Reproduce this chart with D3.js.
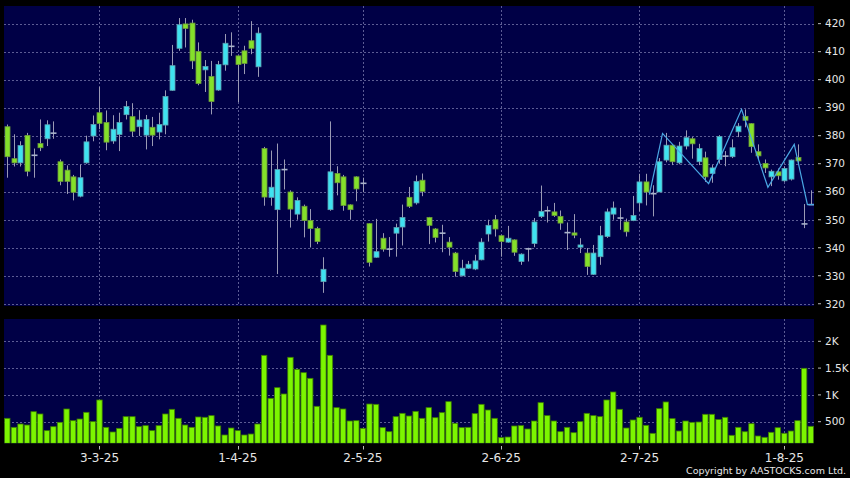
<!DOCTYPE html>
<html><head><meta charset="utf-8">
<script src="https://cdn.jsdelivr.net/npm/d3@7/dist/d3.min.js"></script>
<style>html,body{margin:0;padding:0;background:#000;}svg{display:block;}</style>
</head><body>
<svg id="chart" width="850" height="478"></svg>
<script>
const dates = [
"2025-02-11","2025-02-12","2025-02-13","2025-02-14","2025-02-17","2025-02-18","2025-02-19","2025-02-20","2025-02-21","2025-02-24","2025-02-25","2025-02-26","2025-02-27","2025-02-28",
"2025-03-03","2025-03-04","2025-03-05","2025-03-06","2025-03-07","2025-03-10","2025-03-11","2025-03-12","2025-03-13","2025-03-14","2025-03-17","2025-03-18","2025-03-19","2025-03-20","2025-03-21","2025-03-24","2025-03-25","2025-03-26","2025-03-27","2025-03-28","2025-03-31",
"2025-04-01","2025-04-02","2025-04-03","2025-04-07","2025-04-08","2025-04-09","2025-04-10","2025-04-11","2025-04-14","2025-04-15","2025-04-16","2025-04-17","2025-04-22","2025-04-23","2025-04-24","2025-04-25","2025-04-28","2025-04-29","2025-04-30",
"2025-05-02","2025-05-05","2025-05-06","2025-05-07","2025-05-08","2025-05-09","2025-05-12","2025-05-13","2025-05-14","2025-05-15","2025-05-16","2025-05-19","2025-05-20","2025-05-21","2025-05-22","2025-05-23","2025-05-26","2025-05-27","2025-05-28","2025-05-29","2025-05-30",
"2025-06-02","2025-06-03","2025-06-04","2025-06-05","2025-06-06","2025-06-09","2025-06-10","2025-06-11","2025-06-12","2025-06-13","2025-06-16","2025-06-17","2025-06-18","2025-06-19","2025-06-20","2025-06-23","2025-06-24","2025-06-25","2025-06-26","2025-06-27","2025-06-30",
"2025-07-02","2025-07-03","2025-07-04","2025-07-07","2025-07-08","2025-07-09","2025-07-10","2025-07-11","2025-07-14","2025-07-15","2025-07-16","2025-07-17","2025-07-18","2025-07-21","2025-07-22","2025-07-23","2025-07-24","2025-07-25","2025-07-28","2025-07-29","2025-07-30","2025-07-31",
"2025-08-01","2025-08-04","2025-08-05","2025-08-06","2025-08-07"];

const openP = [383.2,371.8,370.3,380.1,373,377.2,378.9,380.9,370.7,367.7,365.3,358.4,370.3,379.9,
388.2,384.7,378.1,380.4,387.5,386.8,383.2,380.2,383,381.3,383.8,396.2,411.2,419.9,420.2,410.1,403.5,401.1,396.3,405.3,411.9,
408.5,410.3,413.9,404.6,375.4,358,353.6,367.9,359.9,352,354.8,349.7,346.9,327.9,353.6,366.5,365.3,355.3,365.3,
363,348.6,336.6,343.4,339.5,345.2,347.4,358,356,364.1,350.8,346.7,345.2,342,338.1,330,332.7,332.4,335.7,344.9,350,
344.3,342,342.8,335.1,339.6,341.5,351.2,353.2,352.8,351.2,345.4,345.3,340.2,338.1,330.5,336.8,344,352,350.6,349.2,349.7,
356,363.5,359.3,359.9,371.3,376.6,370.3,376.3,378.9,370.7,372.1,366.5,371.5,372.7,372.5,381.4,386.9,384.3,374.3,370.1,365.3,367.1,
363.9,364.5,372.2,348.5,355.4];

const closeP = [372.5,370.3,376.5,367.3,373,375.7,383.9,380.9,363.7,363.7,359.8,365,377.8,384,
384.4,377.7,382.3,384.7,390.4,381.6,385.6,385.8,380.2,384,394,405,419.6,418.3,406.7,398.6,404.7,392.2,405.4,413,411.9,
405.4,405.8,411.2,416.6,358.1,361.6,367.9,367.9,353.8,356.9,349.7,346.9,342.2,332.3,367.1,363.2,355.1,353.6,361,
363,334.8,338.6,339.5,339.5,347.2,350.8,354.8,363.7,360.1,348,343.7,345.2,340.2,331.5,332.7,334.1,335.3,342,348,346.7,
342.2,343.4,338.4,337.7,339.6,349.2,353,353.2,351.5,348.8,345.4,344.5,341,333.3,338.1,344.3,352.8,354.2,350.6,345.7,351.5,
363.5,359.9,359.3,370.7,376.6,370.7,376.3,379.3,377.1,375.4,365.3,368.5,379.7,372.7,375.7,383.4,385.5,376.1,372.8,368.5,367.3,365.7,
368.3,371.3,371,348.5,355.4];

const highP = [384,380.5,378,381,375.4,385.8,385.5,385.1,371.5,369.4,366,369.7,380,387.2,
397.4,389,387.3,388.2,392.4,391.6,389.1,387.4,386.7,388.2,396.2,412.4,422,422,421.4,413.3,407,406.7,406.7,416.3,416.9,
408.5,412.1,420.9,418.7,376,374.7,377.2,371.5,360.5,358,355.4,353.8,347.5,336.6,385.1,369.1,366,355.5,365.5,
365,348.8,350.3,345.2,343.8,348.6,355.4,361.7,365.8,366.5,351,347,348.2,343.8,338.5,335.7,335.3,337.5,343.4,350,351.7,
344.6,347.8,343,338,340,350.6,362.2,354.8,356,353.3,349,352,343.4,339.9,341,347.8,354,356.5,354.2,350.4,358.5,
366.4,366.4,362.3,372,381,377,377.8,381.9,379.5,377.1,374.3,369.5,380.2,374.5,378.7,384.5,389.4,384.5,376.9,371.5,367.9,368.3,
369,371.5,376.9,355.6,360.5];

const lowP = [365,369,369,365.5,365,374.5,376.3,378.9,362.3,359.2,356.9,358,370,378,
382.3,374.8,377.1,374.5,385.8,379.6,379.9,375.1,376.3,378.7,380.5,396,410.3,411.5,403.8,398,395.6,387.6,396,403.2,408.5,
392,402,409.1,401,355,355,330.6,360.8,347.2,350,343.7,340.1,341.3,323.9,353.2,358.7,353.2,350,356.6,
359.8,333.3,336.4,338.6,336.8,336.8,340.8,354.2,355.4,358.4,341.3,341.9,338.4,337.2,329.7,329.8,332.5,332,335.5,342.2,344,
336.8,341.8,337.1,333.9,335.1,340.2,350.6,349,351,346.4,339.2,343.4,338.1,330.3,330.3,333.9,343.5,350,346.4,344,349.5,
353,355.1,351.2,359.9,370.5,369.5,369.8,375.1,371.8,369.5,363.5,363.2,370,369.1,372,379.5,383,373.9,371.5,366.7,362,364.3,
363.5,364,369.7,347,355.4];

const volume = [563,395,457,438,687,644,333,407,488,737,519,550,675,501,
905,395,308,376,594,594,407,426,333,426,644,731,563,438,395,588,582,613,420,252,382,
333,252,270,457,1738,936,1135,1017,1701,1477,1415,1309,787,2304,1738,762,737,513,519,
376,830,824,389,314,594,656,606,693,563,762,575,669,874,470,389,395,650,824,718,563,
202,214,420,426,364,513,855,613,513,314,395,295,501,656,613,594,905,1054,731,382,532,
582,432,283,743,868,557,326,513,488,494,638,638,540,582,246,395,313,463,233,209,302,388,
284,326,519,1496,414];

const zigDates = ["2025-07-04","2025-07-08","2025-07-17","2025-07-24","2025-07-30","2025-08-05","2025-08-07"];
const zigValues = [359,380.8,362.9,389.4,361.6,376.9,355.4];

const tickDates = ["2025-03-03","2025-04-01","2025-05-02","2025-06-02","2025-07-02","2025-08-01"];
const tickLabels = ["3-3-25","1-4-25","2-5-25","2-6-25","2-7-25","1-8-25"];
const priceTicks = [320,330,340,350,360,370,380,390,400,410,420];
const volTicks = [500,1000,1500,2000];
const volTickLabels = ["500","1K","1.5K","2K"];

const svg = d3.select("#chart");
const W = 850, H = 478;
const pL = 4, pR = 814;
const priceTop = 6, priceBot = 306;
const volTop = 319, volBot = 443.3;

const NAVY = "#000046", GRID = "#5c5c94", TXT = "#e6e6e6";
const UP = "#3fe2f0", DOWN = "#84e02a", DOJI = "#aab4cc", WICK = "#9a9ab4";

svg.append("rect").attr("width", W).attr("height", H).attr("fill", "#000");

const x = d3.scaleBand().domain(dates).range([pL, pR]).paddingInner(0).paddingOuter(0);
const step = x.step();
const cx = d => x(d) + step / 2;
const yP = d3.scaleLinear().domain([319.2, 426.3]).range([priceBot, priceTop]);
const yV = d3.scaleLinear().domain([97, 2416]).range([volBot, volTop]);

svg.append("rect").attr("x", pL).attr("y", priceTop).attr("width", pR - pL).attr("height", priceBot - priceTop).attr("fill", NAVY);
svg.append("rect").attr("x", pL).attr("y", volTop).attr("width", pR - pL).attr("height", volBot - volTop).attr("fill", NAVY);

const defs = svg.append("defs");
defs.append("clipPath").attr("id", "clipP").append("rect").attr("x", pL).attr("y", priceTop).attr("width", pR - pL).attr("height", priceBot - priceTop);
defs.append("clipPath").attr("id", "clipV").append("rect").attr("x", pL).attr("y", volTop).attr("width", pR - pL).attr("height", volBot - volTop);

const gP = svg.append("g");
gP.selectAll("line.h").data(priceTicks).join("line")
  .attr("x1", pL).attr("x2", pR).attr("y1", d => Math.round(yP(d)) + 0.5).attr("y2", d => Math.round(yP(d)) + 0.5)
  .attr("stroke", GRID).attr("stroke-dasharray", "2,2").attr("stroke-width", 1);
gP.selectAll("line.v").data(tickDates).join("line")
  .attr("x1", d => Math.round(cx(d)) + 0.5).attr("x2", d => Math.round(cx(d)) + 0.5)
  .attr("y1", priceTop).attr("y2", priceBot)
  .attr("stroke", GRID).attr("stroke-dasharray", "2,2").attr("stroke-width", 1);

const gV = svg.append("g");
gV.selectAll("line.h").data(volTicks).join("line")
  .attr("x1", pL).attr("x2", pR).attr("y1", d => Math.round(yV(d)) + 0.5).attr("y2", d => Math.round(yV(d)) + 0.5)
  .attr("stroke", GRID).attr("stroke-dasharray", "2,2").attr("stroke-width", 1);
gV.selectAll("line.v").data(tickDates).join("line")
  .attr("x1", d => Math.round(cx(d)) + 0.5).attr("x2", d => Math.round(cx(d)) + 0.5)
  .attr("y1", volTop).attr("y2", volBot)
  .attr("stroke", GRID).attr("stroke-dasharray", "2,2").attr("stroke-width", 1);

const candles = dates.map((d, i) => ({ d, o: openP[i], h: highP[i], l: lowP[i], c: closeP[i], v: volume[i] }));
const gC = svg.append("g").attr("clip-path", "url(#clipP)");
const bw = 5;
gC.selectAll("line.wick").data(candles).join("line")
  .attr("x1", d => Math.round(cx(d.d)) + 0.5).attr("x2", d => Math.round(cx(d.d)) + 0.5)
  .attr("y1", d => yP(d.h)).attr("y2", d => yP(d.l))
  .attr("stroke", WICK).attr("stroke-width", 1);
gC.selectAll("rect.body").data(candles.filter(d => d.o !== d.c)).join("rect")
  .attr("x", d => Math.round(cx(d.d)) + 0.5 - bw / 2)
  .attr("y", d => yP(Math.max(d.o, d.c)))
  .attr("width", bw)
  .attr("height", d => Math.max(1.5, Math.abs(yP(d.o) - yP(d.c))))
  .attr("fill", d => d.c > d.o ? UP : DOWN)
  .attr("stroke", d => d.c > d.o ? "#5d9fb0" : "#6d9a3a").attr("stroke-width", 0.8);
gC.selectAll("line.doji").data(candles.filter(d => d.o === d.c)).join("line")
  .attr("x1", d => Math.round(cx(d.d)) + 0.5 - bw / 2 - 0.5).attr("x2", d => Math.round(cx(d.d)) + 0.5 + bw / 2 + 0.5)
  .attr("y1", d => yP(d.c)).attr("y2", d => yP(d.c))
  .attr("stroke", DOJI).attr("stroke-width", 1.6);

const zig = zigDates.map((d, i) => [x(d), yP(zigValues[i])]);
zig.push([x(zigDates[zigDates.length - 1]) + step, yP(zigValues[zigValues.length - 1])]);
gC.append("path").attr("d", d3.line()(zig)).attr("fill", "none").attr("stroke", "#4aa8e4").attr("stroke-width", 1.2);

const gB = svg.append("g").attr("clip-path", "url(#clipV)");
gB.selectAll("rect").data(candles).join("rect")
  .attr("x", d => x(d.d) + 0.6).attr("width", step - 1.2)
  .attr("y", d => yV(d.v)).attr("height", d => volBot - yV(d.v))
  .attr("fill", "#7cf500").attr("stroke", "#3d7d00").attr("stroke-width", 0.8);

const fnt = "DejaVu Sans, Verdana, sans-serif";
const aP = svg.append("g");
aP.selectAll("line").data(priceTicks).join("line")
  .attr("x1", 818).attr("x2", 821).attr("y1", d => yP(d)).attr("y2", d => yP(d))
  .attr("stroke", "#bbbbbb").attr("stroke-width", 1);
aP.selectAll("text").data(priceTicks).join("text")
  .attr("x", 825).attr("y", d => yP(d)).attr("dy", "0.36em")
  .attr("font-family", fnt).attr("font-size", 10.5).attr("fill", TXT)
  .text(d => d3.format("d")(d));

const aV = svg.append("g");
aV.selectAll("line").data(volTicks).join("line")
  .attr("x1", 818).attr("x2", 821).attr("y1", d => yV(d)).attr("y2", d => yV(d))
  .attr("stroke", "#bbbbbb").attr("stroke-width", 1);
aV.selectAll("text").data(volTicks).join("text")
  .attr("x", 825).attr("y", d => yV(d)).attr("dy", "0.36em")
  .attr("font-family", fnt).attr("font-size", 10.5).attr("fill", TXT)
  .text((d, i) => volTickLabels[i]);

const aX = svg.append("g");
aX.selectAll("line").data(tickDates).join("line")
  .attr("x1", d => Math.round(cx(d)) + 0.5).attr("x2", d => Math.round(cx(d)) + 0.5)
  .attr("y1", 446).attr("y2", 449.5).attr("stroke", "#bbbbbb").attr("stroke-width", 1);
aX.selectAll("text").data(tickDates).join("text")
  .attr("x", d => cx(d)).attr("y", 462).attr("text-anchor", "middle")
  .attr("font-family", fnt).attr("font-size", 12).attr("fill", TXT)
  .text((d, i) => tickLabels[i]);

svg.append("text").attr("x", 846).attr("y", 473.5).attr("text-anchor", "end")
  .attr("font-family", fnt).attr("font-size", 9.5).attr("fill", TXT)
  .text("Copyright by AASTOCKS.com Ltd.");
</script>
</body></html>
